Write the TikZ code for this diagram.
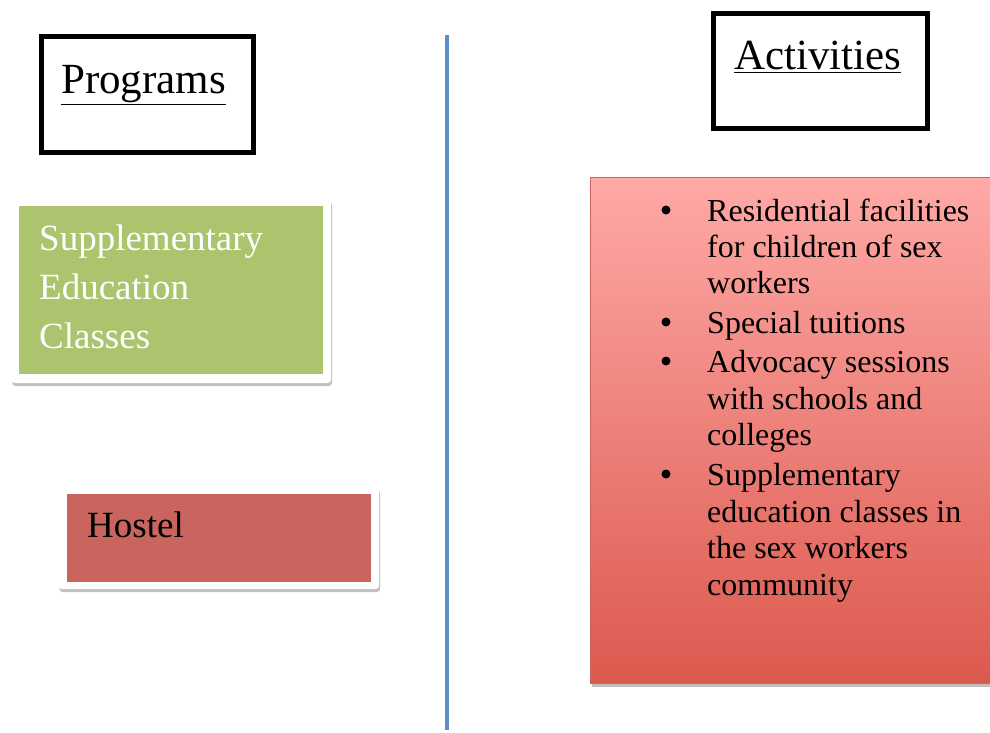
\documentclass[tikz,border=0pt]{standalone}
\usepackage{fontspec}
\setmainfont{Liberation Serif}
\usetikzlibrary{shadows,shadings}
\definecolor{greenfill}{HTML}{ABC46D}
\definecolor{hostelfill}{HTML}{C9655E}
\definecolor{acttop}{HTML}{FFA9A6}
\definecolor{actbot}{HTML}{DB594E}
\definecolor{actborder}{HTML}{D0625C}
\definecolor{divider}{HTML}{5B8DC6}
\tikzset{
  headbox/.style={draw=black, line width=5pt, fill=white, anchor=north west, inner sep=0pt},
  frame/.style={fill=white, rounded corners=4pt, anchor=north west, inner sep=0pt,
    drop shadow={shadow xshift=1pt, shadow yshift=-3pt, opacity=0.35, fill=black!70}},
  inner/.style={anchor=north west, inner sep=0pt},
  headtxt/.style={anchor=base west, inner sep=0pt, font=\fontsize{43}{47}\selectfont},
  progtxt/.style={anchor=base west, inner sep=0pt, font=\fontsize{37}{44}\selectfont},
  acttxt/.style={anchor=base west, inner sep=0pt, font=\fontsize{32}{37}\selectfont},
  bul/.style={circle, fill=black, inner sep=0pt, minimum size=9pt}
}
\begin{document}
\begin{tikzpicture}[x=1pt,y=-1pt]
\clip (0,0) rectangle (990,733);
\fill[white] (0,0) rectangle (990,733);
% heading boxes
\node[headbox, minimum width=212pt, minimum height=116pt] (progbox) at (39,34) {};
\node[headtxt] (progtitle) at (61,94) {\underline{Programs}};
\node[headbox, minimum width=214pt, minimum height=115pt] (actbox) at (711,11) {};
\node[headtxt] (acttitle) at (734,70) {\underline{Activities}};
% divider
\coordinate (dtop) at (447,35);
\coordinate (dbot) at (447,730);
\draw[divider, line width=4.5pt] (dtop) -- (dbot);
% green program box
\node[frame, minimum width=320pt, minimum height=185pt] (sefr) at (11,198) {};
\node[inner, fill=greenfill, minimum width=304pt, minimum height=168pt] (se) at (19,206) {};
\node[progtxt, text=white] (se1) at (39,250) {Supplementary};
\node[progtxt, text=white] (se2) at (39,299) {Education};
\node[progtxt, text=white] (se3) at (39,348) {Classes};
% hostel box
\node[frame, minimum width=321pt, minimum height=103pt] (hofr) at (58,486) {};
\node[inner, fill=hostelfill, minimum width=304pt, minimum height=88pt] (ho) at (67,494) {};
\node[progtxt, text=black] (hotxt) at (87,537) {Hostel};
% activities box
\node[inner, draw=actborder, line width=1pt, top color=acttop, bottom color=actbot,
  minimum width=410pt, minimum height=506pt,
  drop shadow={shadow xshift=1pt, shadow yshift=-3pt, opacity=0.35, fill=black!70}] (acts) at (590,177) {};
\node[bul] (b1) at (666,210) {};
\node[acttxt] (a1) at (707,221) {Residential facilities};
\node[acttxt] (a2) at (707,257) {for children of sex};
\node[acttxt] (a3) at (707,293) {workers};
\node[bul] (b2) at (666,322) {};
\node[acttxt] (a4) at (707,333) {Special tuitions};
\node[bul] (b3) at (666,361) {};
\node[acttxt] (a5) at (707,372) {Advocacy sessions};
\node[acttxt] (a6) at (707,409) {with schools and};
\node[acttxt] (a7) at (707,445) {colleges};
\node[bul] (b4) at (666,474) {};
\node[acttxt] (a8) at (707,485) {Supplementary};
\node[acttxt] (a9) at (707,522) {education classes in};
\node[acttxt] (a10) at (707,558) {the sex workers};
\node[acttxt] (a11) at (707,595) {community};
\end{tikzpicture}
\end{document}
